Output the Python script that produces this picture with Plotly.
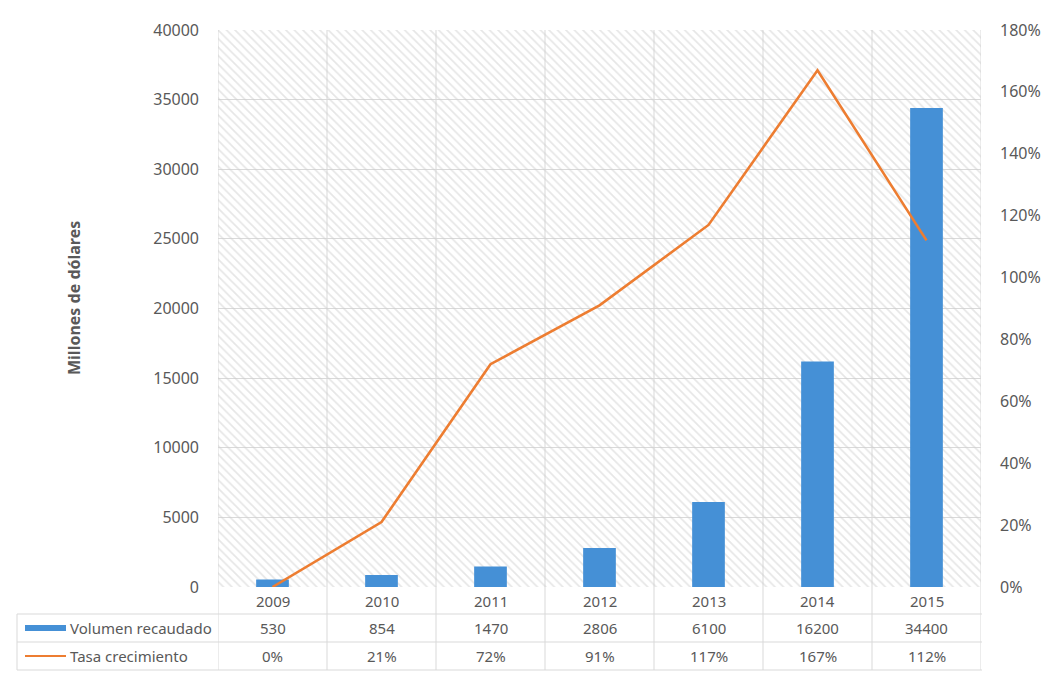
import plotly.graph_objects as go

# Data
years = ["2009", "2010", "2011", "2012", "2013", "2014", "2015"]
volumen = [530, 854, 1470, 2806, 6100, 16200, 34400]
tasa = [0, 21, 72, 91, 117, 167, 112]

vol_name = "Volumen recaudado"
tasa_name = "Tasa crecimiento"
y_title = "Millones de dólares"

# Figure geometry (pixels)
W, H = 1041, 674
L, R, T, B = 218, 60, 30, 87
PW, PH = W - L - R, H - T - B

BLUE = "#4590D6"
ORANGE = "#ED7D31"
GRID = "#d9d9d9"
TXT = "#595959"
FONT = "Noto Sans"
FS = 15


def py(p):
    """pixel row -> paper y"""
    return (H - B - p) / PH


def px(p):
    """pixel column -> paper x"""
    return (p - L) / PW


n = len(years)
idx = list(range(n))

fig = go.Figure()

# hatched plot-area background
fig.add_trace(go.Bar(
    x=[(n - 1) / 2], y=[40000], width=[n],
    marker=dict(color="rgba(0,0,0,0)", line=dict(width=0),
                pattern=dict(shape="\\", size=6, solidity=0.28,
                             fgcolor="#cdcdcd", bgcolor="rgba(0,0,0,0)")),
    hoverinfo="skip", showlegend=False,
))

fig.add_trace(go.Bar(
    x=idx, y=volumen, name=vol_name, width=0.3,
    marker=dict(color=BLUE, line=dict(width=0)), showlegend=False,
))

fig.add_trace(go.Scatter(
    x=idx, y=tasa, name=tasa_name, yaxis="y2", mode="lines",
    line=dict(color=ORANGE, width=2.6), showlegend=False,
))

shapes = []
# vertical category separators through plot and table
for i in range(n + 1):
    shapes.append(dict(type="line", xref="x", yref="paper",
                       x0=i - 0.5, x1=i - 0.5, y0=py(670), y1=1,
                       line=dict(color=GRID, width=1), layer="below"))
# table horizontal rules
for row_y in (614, 642, 670):
    shapes.append(dict(type="line", xref="paper", yref="paper",
                       x0=px(17), x1=px(982), y0=py(row_y), y1=py(row_y),
                       line=dict(color=GRID, width=1)))
# table left edge
shapes.append(dict(type="line", xref="paper", yref="paper",
                   x0=px(17), x1=px(17), y0=py(614), y1=py(670),
                   line=dict(color=GRID, width=1)))
# legend keys inside the table
shapes.append(dict(type="rect", xref="paper", yref="paper",
                   x0=px(25), x1=px(66), y0=py(631), y1=py(625),
                   fillcolor=BLUE, line=dict(width=0)))
shapes.append(dict(type="line", xref="paper", yref="paper",
                   x0=px(25), x1=px(66), y0=py(656), y1=py(656),
                   line=dict(color=ORANGE, width=2.2)))

annotations = []
tfont = dict(family=FONT, size=FS, color=TXT)
cell = dict(xref="x", yref="paper", showarrow=False, font=tfont,
            xanchor="center", yanchor="middle")
for i, yr in enumerate(years):
    annotations.append(dict(x=i, y=py(601), text=yr, **cell))
    annotations.append(dict(x=i, y=py(628), text=str(volumen[i]), **cell))
    annotations.append(dict(x=i, y=py(656), text=f"{tasa[i]}%", **cell))
label = dict(xref="paper", yref="paper", showarrow=False, font=tfont,
             xanchor="left", yanchor="middle")
annotations.append(dict(x=px(68), y=py(628), text=vol_name, **label))
annotations.append(dict(x=px(68), y=py(656), text=tasa_name, **label))
annotations.append(dict(x=px(74), y=py(298), xref="paper", yref="paper",
                        xanchor="center", yanchor="middle",
                        text=f"<b>{y_title}</b>", textangle=-90, showarrow=False,
                        font=dict(family=FONT, size=16, color=TXT)))

fig.update_layout(
    width=W, height=H,
    margin=dict(l=L, r=R, t=T, b=B, autoexpand=False),
    paper_bgcolor="white", plot_bgcolor="white",
    barmode="overlay",
    font=dict(family=FONT, size=16, color=TXT),
    xaxis=dict(range=[-0.5, n - 0.5], showticklabels=False, automargin=False,
               showgrid=False, zeroline=False, ticks=""),
    yaxis=dict(range=[0, 40000], dtick=5000, tickformat="d", automargin=False,
               showgrid=True, gridcolor=GRID, gridwidth=1, zeroline=False,
               ticklabelstandoff=18),
    yaxis2=dict(range=[0, 180], dtick=20, ticksuffix="%", overlaying="y",
                side="right", showgrid=False, zeroline=False, automargin=False,
                ticklabelstandoff=18),
    shapes=shapes,
    annotations=annotations,
)

fig.write_html("out.html")
